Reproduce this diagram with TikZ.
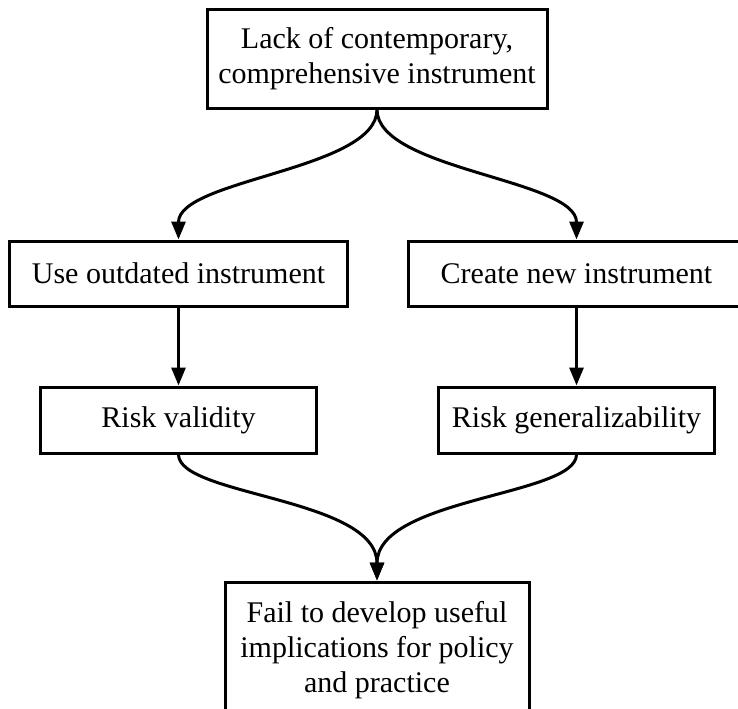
\documentclass[tikz,border=0pt]{standalone}
\usepackage{fontspec}
\setmainfont{Liberation Serif}
\usetikzlibrary{arrows.meta,positioning}

\begin{document}
\begin{tikzpicture}[
    every node/.style={font=\fontsize{15}{17.5}\selectfont},
    box/.style={rectangle,draw,line width=1.5pt,align=center,inner sep=2pt},
    topbox/.style={box,minimum width=170pt,minimum height=49.5pt},
    midbox/.style={box,minimum width=169pt,minimum height=32.5pt},
    riskbox/.style={box,minimum width=138pt,minimum height=33pt},
    endbox/.style={box,minimum width=152pt,minimum height=68.5pt},
    arrow/.style={-{Triangle[length=9pt,width=7pt]},line width=1.5pt}
]
\useasboundingbox (0,0) rectangle (369pt,-354pt);

% Problem
\node[topbox] (lack) at (188.5pt,-29.25pt) {Lack of contemporary,\\comprehensive instrument};

% Options
\node[midbox,below=65pt of lack,xshift=-99.25pt] (use) {Use outdated instrument};
\node[midbox,right=29pt of use,minimum width=168pt] (create) {Create new instrument};

% Risks
\node[riskbox,below=39pt of use] (validity) {Risk validity};
\node[riskbox,below=39pt of create] (general) {Risk generalizability};

% Outcome
\coordinate (join) at (validity.south -| lack.south);
\node[endbox,below=63pt of join] (fail) {Fail to develop useful\\implications for policy\\and practice};

% Problem to options
\draw[arrow] (lack.south) to[out=-90,in=90,looseness=0.65] (use.north);
\draw[arrow] (lack.south) to[out=-90,in=90,looseness=0.65] (create.north);

% Options to risks
\draw[arrow] (use) -- (validity);
\draw[arrow] (create) -- (general);

% Risks to outcome
\draw[arrow] (validity.south) to[out=-90,in=90,out looseness=0.45,in looseness=0.9] (fail.north);
\draw[arrow] (general.south) to[out=-90,in=90,out looseness=0.45,in looseness=0.9] (fail.north);

\end{tikzpicture}
\end{document}
